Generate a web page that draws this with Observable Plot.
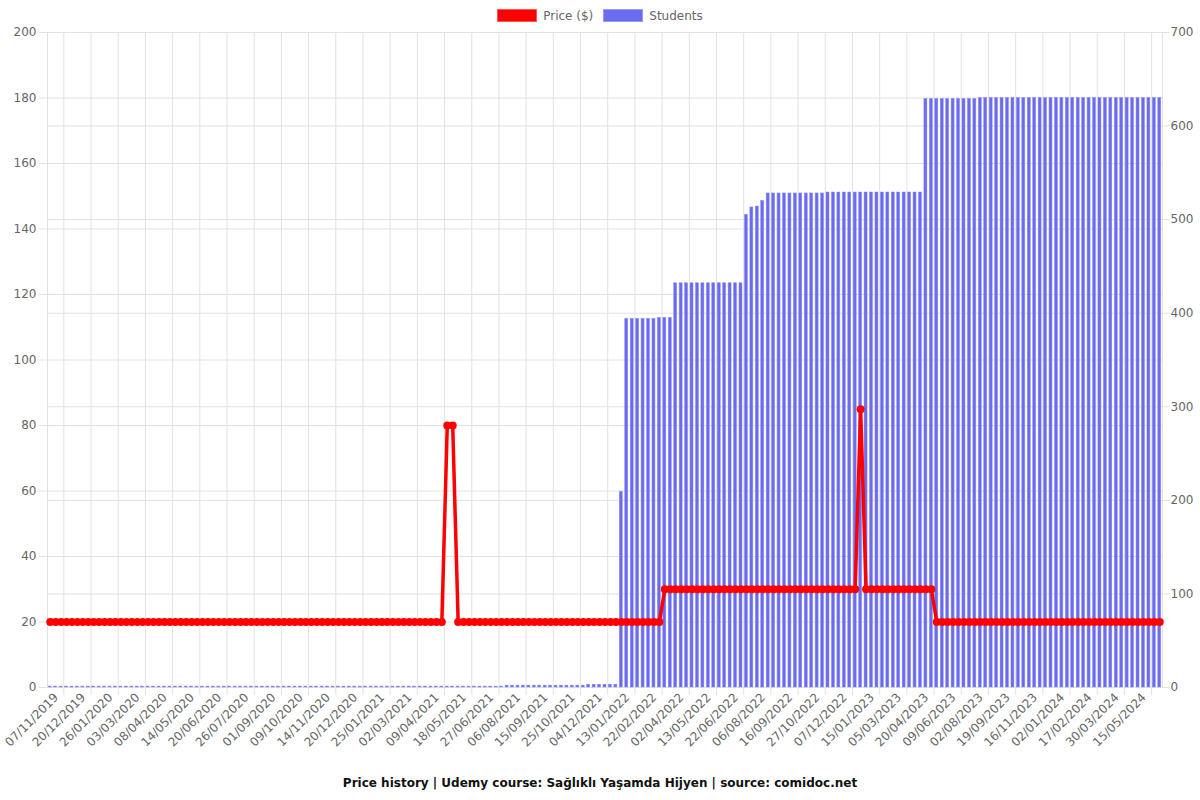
<!DOCTYPE html>
<html>
<head>
<meta charset="utf-8">
<script src="https://cdn.jsdelivr.net/npm/d3@7"></script>
<script src="https://cdn.jsdelivr.net/npm/@observablehq/plot@0.6"></script>
<style>
  html, body { margin: 0; padding: 0; background: #fff; }
  body { width: 1200px; height: 800px; position: relative; font-family: "DejaVu Sans", sans-serif; }
  #legend { position: absolute; left: 0; top: 0; width: 1200px; height: 31px; display: flex; align-items: center; justify-content: center; font-size: 12px; color: #666; }
  .item { display: flex; align-items: center; margin: 0 5px; }
  .sw { width: 40px; height: 13px; box-sizing: border-box; margin-right: 6px; }
  #chart { position: absolute; left: 0; top: 22px; }
  #chart svg text { font-family: "DejaVu Sans", sans-serif; }
  #title { position: absolute; left: 0; top: 772px; width: 1200px; text-align: center; font-size: 12px; font-weight: bold; color: #111; line-height: 22px; }
</style>
</head>
<body>
<div id="legend">
  <div class="item"><div class="sw" style="background:#ff0000;border:1px solid #ff5555"></div><span>Price ($)</span></div>
  <div class="item"><div class="sw" style="background:#6b6bf0;border:1px solid #9b9bf5"></div><span>Students</span></div>
</div>
<div id="chart"></div>
<div id="title">Price history | Udemy course: Sağlıklı Yaşamda Hijyen | source: comidoc.net</div>
<script>
// Tick labels shown every 5th sample (category axis)
const tickLabels = ["07/11/2019","20/12/2019","26/01/2020","03/03/2020","08/04/2020","14/05/2020","20/06/2020","26/07/2020","01/09/2020","09/10/2020","14/11/2020","20/12/2020","25/01/2021","02/03/2021","09/04/2021","18/05/2021","27/06/2021","06/08/2021","15/09/2021","25/10/2021","04/12/2021","13/01/2022","22/02/2022","02/04/2022","13/05/2022","22/06/2022","06/08/2022","16/09/2022","27/10/2022","07/12/2022","15/01/2023","05/03/2023","20/04/2023","09/06/2023","02/08/2023","19/09/2023","16/11/2023","02/01/2024","17/02/2024","30/03/2024","15/05/2024"];

// Price ($) per sample
const price = [
20,20,20,20,20,20,20,20,20,20,
20,20,20,20,20,20,20,20,20,20,
20,20,20,20,20,20,20,20,20,20,
20,20,20,20,20,20,20,20,20,20,
20,20,20,20,20,20,20,20,20,20,
20,20,20,20,20,20,20,20,20,20,
20,20,20,20,20,20,20,20,20,20,
20,20,20,80,80,20,20,20,20,20,
20,20,20,20,20,20,20,20,20,20,
20,20,20,20,20,20,20,20,20,20,
20,20,20,20,20,20,20,20,20,20,
20,20,20,30,30,30,30,30,30,30,
30,30,30,30,30,30,30,30,30,30,
30,30,30,30,30,30,30,30,30,30,
30,30,30,30,30,30,30,30,30,85,
30,30,30,30,30,30,30,30,30,30,
30,30,30,20,20,20,20,20,20,20,
20,20,20,20,20,20,20,20,20,20,
20,20,20,20,20,20,20,20,20,20,
20,20,20,20,20,20,20,20,20,20,
20,20,20,20,20
];

// Students per sample
const students = [
1,1,1,1,1,1,1,1,1,1,
1,1,1,1,1,1,1,1,1,1,
1,1,1,1,1,1,1,1,1,1,
1,1,1,1,1,1,1,1,1,1,
1,1,1,1,1,1,1,1,1,1,
1,1,1,1,1,1,1,1,1,1,
1,1,1,1,1,1,1,1,1,1,
1,1,1,1,1,1,1,1,1,1,
1,1,1,1,2,2,2,2,2,2,
2,2,2,2,2,2,2,2,2,3,
3,3,3,3,3,209,394,394,394,394,
394,394,395,395,395,432,432,432,432,432,
432,432,432,432,432,432,432,432,505,513,
514,520,528,528,528,528,528,528,528,528,
528,528,528,529,529,529,529,529,529,529,
529,529,529,529,529,529,529,529,529,529,
529,629,629,629,629,629,629,629,629,629,
629,630,630,630,630,630,630,630,630,630,
630,630,630,630,630,630,630,630,630,630,
630,630,630,630,630,630,630,630,630,630,
630,630,630,630,630
];

const priceTicks = [0,20,40,60,80,100,120,140,160,180,200];
const studentTicks = [0,100,200,300,400,500,600,700];

const PMAX = 200, SMAX = 700;
const toP = s => s * PMAX / SMAX;
const data = price.map((p, i) => ({i, price: p, students: students[i]}));
const idx = data.map(d => d.i);
const labelIdx = tickLabels.map((_, k) => k * 5);
const gridIdx = tickLabels.map((_, k) => k * 5 + 2).filter(v => v < idx.length - 1);

const W = 1200, H = 748, mL = 47, mR = 38, mT = 10, mB = 83;
const step = (W - mL - mR) / idx.length;
const grid = "#e2e2e2";

const chart = Plot.plot({
  width: W, height: H,
  marginLeft: mL, marginRight: mR, marginTop: mT, marginBottom: mB,
  style: {fontFamily: "'DejaVu Sans', sans-serif", fontSize: "12px", background: "#fff"},
  x: {type: "band", domain: idx, paddingInner: 0.45, paddingOuter: 0.225, axis: null},
  y: {domain: [0, PMAX], axis: null},
  marks: [
    Plot.ruleY(priceTicks, {y: d => d, stroke: grid, insetLeft: -8}),
    Plot.ruleY(studentTicks, {y: d => toP(d), stroke: grid, insetRight: -8}),
    Plot.ruleX(gridIdx, {x: d => d, dx: step / 2, stroke: grid, insetBottom: -8}),
    Plot.frame({stroke: grid}),
    Plot.barY(data, {x: "i", y: d => toP(d.students), fill: "#6b6bf0", stroke: "#8a8af3", strokeWidth: 0.5}),
    Plot.line(data, {x: "i", y: "price", stroke: "#ff0000", strokeWidth: 3.5}),
    Plot.dot(data, {x: "i", y: "price", r: 4, fill: "#ff0000", stroke: "none"}),
    Plot.axisY(priceTicks, {anchor: "left", tickSize: 0, tickPadding: 11, color: "#666", label: null}),
    Plot.axisY(studentTicks.map(toP), {anchor: "right", tickSize: 0, tickPadding: 8, color: "#666", label: null, tickFormat: d => String(Math.round(d * SMAX / PMAX))}),
    Plot.axisX(labelIdx, {tickRotate: -45, tickSize: 0, tickPadding: 8, dx: 6, color: "#666", label: null, tickFormat: d => tickLabels[d / 5]})
  ]
});
document.getElementById("chart").appendChild(chart);
</script>
</body>
</html>
